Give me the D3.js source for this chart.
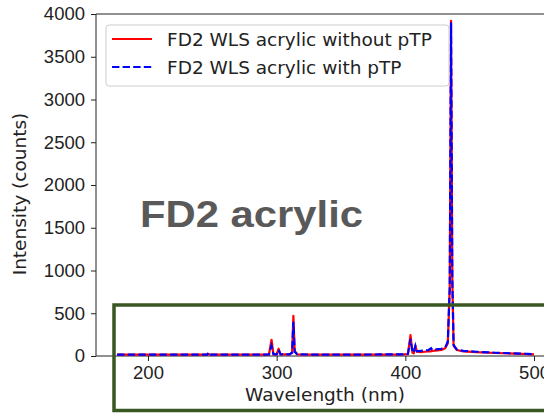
<!DOCTYPE html>
<html>
<head>
<meta charset="utf-8">
<script src="https://cdn.jsdelivr.net/npm/d3@7"></script>
<style>
  body { margin: 0; background: #fff; }
  svg { display: block; }
</style>
</head>
<body>
<div id="chart"></div>
<script>
// spectrum: wavelength (nm), counts
var wavelength = [176, 200, 220, 246, 247.5, 249, 270, 290, 294, 296, 297.5, 300, 301.5, 303, 310, 312, 313, 314, 316, 330, 360, 380, 398, 402, 404, 405.5, 406.5, 407.8, 409, 412, 415, 418, 420, 421, 425, 428, 431, 433, 434.5, 435.5, 436.5, 437.5, 440, 445, 455, 470, 485, 495, 500];
var withoutPTP = [15, 15, 16, 15, 20, 15, 16, 16, 18, 190, 20, 18, 85, 18, 18, 40, 470, 60, 20, 16, 15, 15, 18, 22, 245, 40, 30, 120, 50, 45, 50, 55, 55, 60, 65, 70, 90, 150, 800, 3920, 900, 120, 70, 55, 45, 35, 28, 22, 18];
var withPTP = [15, 16, 15, 16, 45, 16, 16, 17, 18, 120, 20, 18, 70, 18, 18, 40, 400, 50, 20, 16, 16, 18, 20, 25, 200, 50, 40, 120, 55, 60, 65, 70, 90, 70, 80, 85, 100, 170, 800, 3900, 900, 130, 75, 60, 50, 38, 30, 25, 20];
var seriesNames = ["FD2 WLS acrylic without pTP", "FD2 WLS acrylic with pTP"];
var seriesColors = ["#ff0000", "#0000ff"];
var xTicks = [200, 300, 400, 500];
var yTicks = [0, 500, 1000, 1500, 2000, 2500, 3000, 3500, 4000];

var W = 544, H = 413;
var plotL = 96, plotR = 555, plotT = 14, plotB = 356;

var svg = d3.select("#chart").append("svg")
    .attr("width", W)
    .attr("height", H)
    .style("font-family", "'DejaVu Sans', sans-serif");

var x = d3.scaleLinear().domain([159.6, 516.3]).range([plotL, plotR]);
var y = d3.scaleLinear().domain([0, 4000]).range([plotB, plotT]);

var rows = wavelength.map(function (w, i) {
    return { wl: w, a: withoutPTP[i], b: withPTP[i] };
});

// axes
var xAxis = d3.axisBottom(x).tickValues(xTicks).tickFormat(d3.format("d")).tickSize(5).tickPadding(5);
var yAxis = d3.axisLeft(y).tickValues(yTicks).tickFormat(d3.format("d")).tickSize(5).tickPadding(6);

var gx = svg.append("g")
    .attr("transform", "translate(0," + plotB + ")")
    .call(xAxis);
var gy = svg.append("g")
    .attr("transform", "translate(" + plotL + ",0)")
    .call(yAxis);

[gx, gy].forEach(function (g) {
    g.select(".domain").remove();
    g.selectAll("line").attr("stroke", "#222");
    g.selectAll("text").attr("fill", "#222").style("font-size", "18.5px");
});

// spines
svg.append("path")
    .attr("d", "M" + plotR + "," + plotT + "H" + plotL + "V" + plotB + "H" + plotR)
    .attr("fill", "none")
    .attr("stroke", "#222")
    .attr("stroke-width", 1);

// series
var lineA = d3.line().x(function (d) { return x(d.wl); }).y(function (d) { return y(d.a); });
var lineB = d3.line().x(function (d) { return x(d.wl); }).y(function (d) { return y(d.b); });

svg.append("path")
    .datum(rows)
    .attr("d", lineA)
    .attr("fill", "none")
    .attr("stroke", seriesColors[0])
    .attr("stroke-width", 2.2)
    .attr("stroke-linejoin", "round");

svg.append("path")
    .datum(rows)
    .attr("d", lineB)
    .attr("fill", "none")
    .attr("stroke", seriesColors[1])
    .attr("stroke-width", 2.2)
    .attr("stroke-dasharray", "7.4,3.2");

// axis labels
svg.append("text")
    .attr("x", 325)
    .attr("y", 401)
    .attr("text-anchor", "middle")
    .attr("fill", "#222")
    .style("font-size", "18.5px")
    .text("Wavelength (nm)");

svg.append("text")
    .attr("transform", "translate(26,194) rotate(-90)")
    .attr("text-anchor", "middle")
    .attr("fill", "#222")
    .style("font-size", "18.5px")
    .text("Intensity (counts)");

// legend
var leg = svg.append("g");
leg.append("rect")
    .attr("x", 106).attr("y", 25)
    .attr("width", 343).attr("height", 61)
    .attr("rx", 3)
    .attr("fill", "#fff").attr("fill-opacity", 0.8)
    .attr("stroke", "#ccc");

seriesNames.forEach(function (name, i) {
    var yy = 39 + i * 28;
    leg.append("line")
        .attr("x1", 112).attr("x2", 152)
        .attr("y1", yy).attr("y2", yy)
        .attr("stroke", seriesColors[i])
        .attr("stroke-width", 2)
        .attr("stroke-dasharray", i === 1 ? "7.4,3.2" : null);
    leg.append("text")
        .attr("x", 167).attr("y", yy + 7)
        .attr("fill", "#222")
        .style("font-size", "18.5px")
        .text(name);
});

// annotation
svg.append("text")
    .attr("x", 140)
    .attr("y", 227)
    .attr("fill", "#595959")
    .attr("textLength", 223)
    .attr("lengthAdjust", "spacingAndGlyphs")
    .style("font-family", "'Liberation Sans', Arial, sans-serif")
    .style("font-weight", "bold")
    .style("font-size", "37px")
    .text("FD2 acrylic");

svg.append("rect")
    .attr("x", 114).attr("y", 305)
    .attr("width", 460).attr("height", 105.5)
    .attr("fill", "none")
    .attr("stroke", "#385723")
    .attr("stroke-width", 3.5);
</script>
</body>
</html>
